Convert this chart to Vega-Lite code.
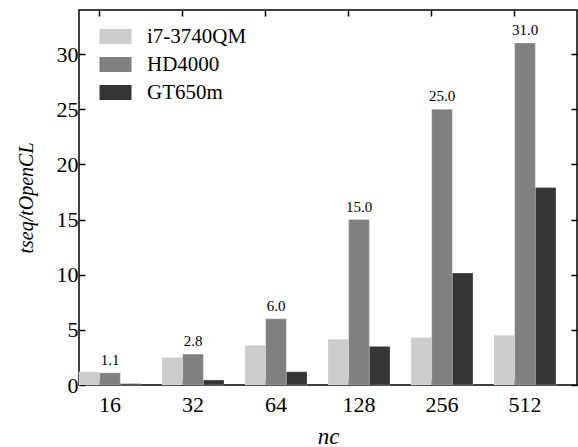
{
  "$schema": "https://vega.github.io/schema/vega-lite/v6.json",
  "width": 498,
  "height": 375,
  "autosize": {"type": "none"},
  "padding": {"left": 79, "top": 10, "right": 1, "bottom": 62},
  "background": "white",
  "config": {
    "font": "Liberation Serif",
    "view": {"stroke": "black", "strokeWidth": 1.5},
    "style": {
      "guide-label": {"font": "Liberation Serif", "fill": "black"},
      "guide-title": {"font": "Liberation Serif", "fill": "black"}
    },
    "axis": {
      "grid": false,
      "domain": false,
      "labelFont": "Liberation Serif",
      "labelFontSize": 22,
      "labelColor": "black",
      "tickColor": "black",
      "tickWidth": 1.5,
      "tickSize": -6,
      "titleFont": "Liberation Serif",
      "titleFontStyle": "italic",
      "titleFontWeight": "normal",
      "titleColor": "black",
      "titleFontSize": 23
    },
    "legend": {
      "labelFont": "Liberation Serif",
      "labelFontSize": 21,
      "labelColor": "black"
    }
  },
  "data": {
    "values": [
      {"nc": "16", "device": "i7-3740QM", "value": 1.2},
      {"nc": "16", "device": "HD4000", "value": 1.1},
      {"nc": "16", "device": "GT650m", "value": 0.12},
      {"nc": "32", "device": "i7-3740QM", "value": 2.5},
      {"nc": "32", "device": "HD4000", "value": 2.8},
      {"nc": "32", "device": "GT650m", "value": 0.45},
      {"nc": "64", "device": "i7-3740QM", "value": 3.6},
      {"nc": "64", "device": "HD4000", "value": 6.0},
      {"nc": "64", "device": "GT650m", "value": 1.2},
      {"nc": "128", "device": "i7-3740QM", "value": 4.15},
      {"nc": "128", "device": "HD4000", "value": 15.0},
      {"nc": "128", "device": "GT650m", "value": 3.5},
      {"nc": "256", "device": "i7-3740QM", "value": 4.3},
      {"nc": "256", "device": "HD4000", "value": 25.0},
      {"nc": "256", "device": "GT650m", "value": 10.15},
      {"nc": "512", "device": "i7-3740QM", "value": 4.5},
      {"nc": "512", "device": "HD4000", "value": 31.0},
      {"nc": "512", "device": "GT650m", "value": 17.9}
    ]
  },
  "layer": [
    {
      "mark": {"type": "bar", "stroke": "white", "strokeOpacity": 0.25, "strokeWidth": 1},
      "encoding": {
        "x": {
          "field": "nc", "type": "ordinal",
          "sort": ["16", "32", "64", "128", "256", "512"],
          "scale": {"paddingInner": 0.253, "paddingOuter": 0.1265, "align": 0},
          "axis": {"orient": "bottom", "labelAngle": 0, "bandPosition": 0.3333, "labelPadding": 15, "labelFont": "Liberation Serif", "titleFont": "Liberation Serif", "title": "nc", "titlePadding": 10}
        },
        "xOffset": {
          "field": "device", "type": "nominal",
          "sort": ["i7-3740QM", "HD4000", "GT650m"],
          "scale": {"paddingInner": 0, "paddingOuter": 0}
        },
        "y": {
          "field": "value", "type": "quantitative",
          "scale": {"domain": [0, 34], "nice": false, "zero": true},
          "axis": {"orient": "left", "values": [0, 5, 10, 15, 20, 25, 30], "labelPadding": 7, "labelFont": "Liberation Serif", "titleFont": "Liberation Serif", "title": "tseq/tOpenCL", "titleFontSize": 20, "titlePadding": 20}
        },
        "color": {
          "field": "device", "type": "nominal",
          "sort": ["i7-3740QM", "HD4000", "GT650m"],
          "scale": {"domain": ["i7-3740QM", "HD4000", "GT650m"], "range": ["#cccccc", "#808080", "#353535"]},
          "legend": {
            "title": null,
            "orient": "none",
            "legendX": 26,
            "legendY": 16,
            "padding": 0,
            "labelFont": "Liberation Serif",
            "symbolType": "M-2,-0.94L2,-0.94L2,0.94L-2,0.94Z",
            "symbolSize": 256,
            "symbolStrokeWidth": 0,
            "labelOffset": 21,
            "rowPadding": 6
          }
        }
      }
    },
    {
      "transform": [{"filter": "datum.device === 'HD4000'"}],
      "mark": {"type": "text", "baseline": "bottom", "dy": -5, "fontSize": 15, "font": "Liberation Serif", "color": "black"},
      "encoding": {
        "x": {"field": "nc", "type": "ordinal", "sort": ["16", "32", "64", "128", "256", "512"], "axis": null},
        "xOffset": {"field": "device", "type": "nominal", "sort": ["i7-3740QM", "HD4000", "GT650m"]},
        "y": {"field": "value", "type": "quantitative", "axis": null},
        "text": {"field": "value", "type": "quantitative", "format": ".1f"}
      }
    },
    {
      "mark": {"type": "point", "opacity": 0},
      "encoding": {
        "x": {"field": "nc", "type": "ordinal", "sort": ["16", "32", "64", "128", "256", "512"],
          "axis": {"orient": "top", "labels": false, "title": null, "bandPosition": 0.3333}},
        "y": {"field": "value", "type": "quantitative",
          "axis": {"orient": "right", "labels": false, "title": null, "values": [0, 5, 10, 15, 20, 25, 30]}}
      }
    }
  ],
  "resolve": {"axis": {"x": "independent", "y": "independent"}}
}
